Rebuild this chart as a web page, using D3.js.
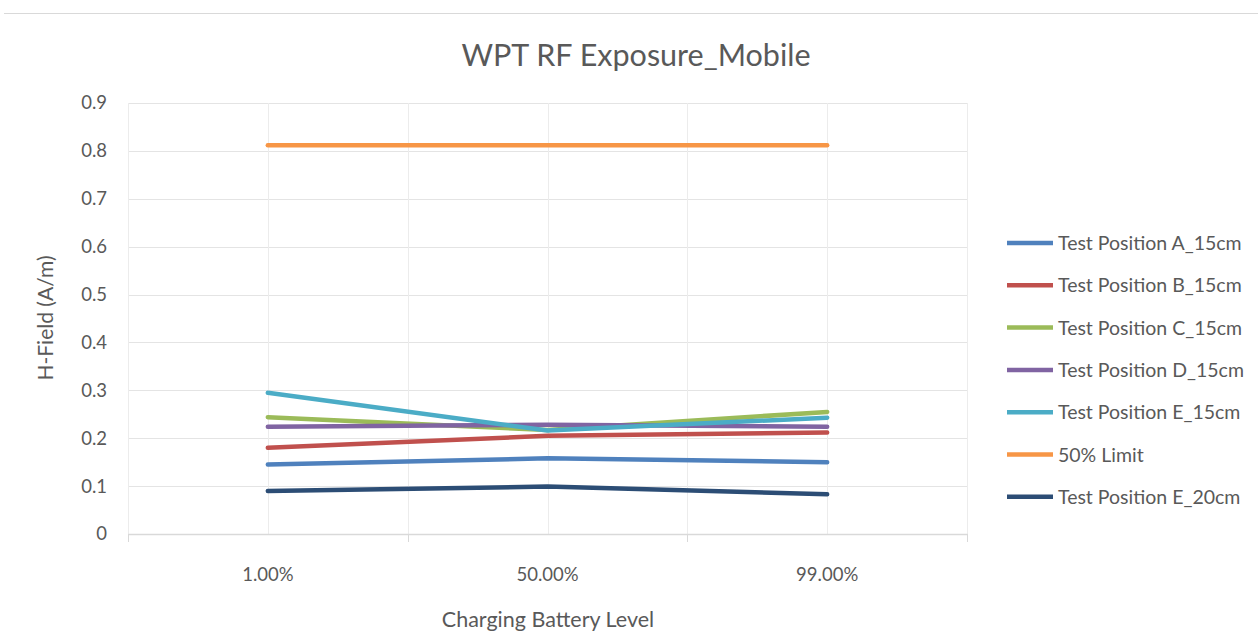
<!DOCTYPE html>
<html>
<head>
<meta charset="utf-8">
<script src="https://cdn.jsdelivr.net/npm/d3@7"></script>
<style>
  body { margin: 0; background: #fff; }
  text { font-family: Lato, "Open Sans", sans-serif; fill: #595959; }
</style>
</head>
<body>
<div id="chart"></div>
<script>
// categories and series
const categories = ["1.00%", "50.00%", "99.00%"];
const seriesNames = [
  "Test Position A_15cm",
  "Test Position B_15cm",
  "Test Position C_15cm",
  "Test Position D_15cm",
  "Test Position E_15cm",
  "50% Limit",
  "Test Position E_20cm"
];
const posA15 = [0.145, 0.158, 0.150];
const posB15 = [0.180, 0.205, 0.212];
const posC15 = [0.244, 0.217, 0.255];
const posD15 = [0.224, 0.228, 0.224];
const posE15 = [0.295, 0.216, 0.243];
const limit50 = [0.812, 0.812, 0.812];
const posE20 = [0.090, 0.099, 0.083];
const yTicks = [0, 0.1, 0.2, 0.3, 0.4, 0.5, 0.6, 0.7, 0.8, 0.9];
const colours = ["#4F81BD", "#C0504D", "#9BBB59", "#8064A2", "#4BACC6", "#F79646", "#2C4D75"];

const allValues = [posA15, posB15, posC15, posD15, posE15, limit50, posE20];
const series = seriesNames.map((name, i) => ({
  name: name,
  color: colours[i],
  values: allValues[i].map((v, j) => ({ cat: categories[j], value: v }))
}));

// Declare the chart dimensions and margins.
const width = 1258;
const height = 635;
const marginTop = 103;
const marginRight = 291;
const marginBottom = 101;
const marginLeft = 128;

const x = d3.scaleBand()
  .domain(categories)
  .range([marginLeft, width - marginRight])
  .padding(0);

const y = d3.scaleLinear()
  .domain([0, 0.9])
  .range([height - marginBottom, marginTop]);

const svg = d3.select("#chart")
  .append("svg")
  .attr("width", width)
  .attr("height", height)
  .attr("viewBox", [0, 0, width, height]);

// top border of the chart frame
svg.append("line")
  .attr("x1", 4).attr("x2", width)
  .attr("y1", 13.5).attr("y2", 13.5)
  .attr("stroke", "#d9d9d9");

// Title
svg.append("text")
  .attr("x", 636)
  .attr("y", 66)
  .attr("text-anchor", "middle")
  .attr("font-size", 30.5)
  .text("WPT RF Exposure_Mobile");

// horizontal gridlines
svg.append("g")
  .selectAll("line")
  .data(yTicks.slice(1))
  .join("line")
  .attr("x1", marginLeft).attr("x2", width - marginRight)
  .attr("y1", d => Math.round(y(d)) + 0.5).attr("y2", d => Math.round(y(d)) + 0.5)
  .attr("stroke", "#e4e4e4");

// vertical gridlines: band edges and band centres
const vGrid = [];
categories.forEach(c => {
  vGrid.push(x(c));
  vGrid.push(x(c) + x.bandwidth() / 2);
});
vGrid.push(width - marginRight);
svg.append("g")
  .selectAll("line")
  .data(vGrid)
  .join("line")
  .attr("x1", d => Math.round(d) + 0.5).attr("x2", d => Math.round(d) + 0.5)
  .attr("y1", marginTop).attr("y2", height - marginBottom)
  .attr("stroke", "#ececec");

// y axis labels
svg.append("g")
  .attr("transform", `translate(${marginLeft},0)`)
  .call(d3.axisLeft(y).tickValues(yTicks).tickSize(0).tickPadding(21)
    .tickFormat(d => d === 0 ? "0" : d3.format(".1f")(d)))
  .call(g => g.select(".domain").remove())
  .call(g => g.selectAll("text").attr("font-size", 18.5).attr("font-family", null).attr("fill", "#595959"));

// x axis
const xEdges = d3.axisBottom(x).tickSize(0).tickPadding(34);
svg.append("g")
  .attr("transform", `translate(0,${height - marginBottom})`)
  .call(xEdges)
  .call(g => g.select(".domain").attr("stroke", "#d9d9d9").attr("stroke-width", 1.5))
  .call(g => g.selectAll("text").attr("font-size", 18.5).attr("font-family", null).attr("fill", "#595959"));

// x tick marks at band edges
const edges = categories.map(c => x(c)).concat([width - marginRight]);
svg.append("g")
  .selectAll("line")
  .data(edges)
  .join("line")
  .attr("x1", d => Math.round(d) + 0.5).attr("x2", d => Math.round(d) + 0.5)
  .attr("y1", height - marginBottom).attr("y2", height - marginBottom + 8)
  .attr("stroke", "#d9d9d9");

// axis titles
svg.append("text")
  .attr("x", 548)
  .attr("y", 627)
  .attr("text-anchor", "middle")
  .attr("font-size", 21.5)
  .text("Charging Battery Level");

svg.append("text")
  .attr("transform", `translate(53,${318}) rotate(-90)`)
  .attr("text-anchor", "middle")
  .attr("font-size", 21)
  .text("H-Field (A/m)");

// lines
const line = d3.line()
  .x(d => x(d.cat) + x.bandwidth() / 2)
  .y(d => y(d.value));

svg.append("g")
  .selectAll("path")
  .data(series)
  .join("path")
  .attr("fill", "none")
  .attr("stroke", d => d.color)
  .attr("stroke-width", 4.5)
  .attr("stroke-linecap", "round")
  .attr("stroke-linejoin", "round")
  .attr("d", d => line(d.values));

// legend
const legend = svg.append("g")
  .selectAll("g")
  .data(series)
  .join("g")
  .attr("transform", (d, i) => `translate(1007,${243 + i * 42.3})`);

legend.append("line")
  .attr("x1", 0).attr("x2", 46)
  .attr("stroke", d => d.color)
  .attr("stroke-width", 4.5);

legend.append("text")
  .attr("x", 51)
  .attr("y", 7)
  .attr("font-size", 19.5)
  .text(d => d.name);
</script>
</body>
</html>
